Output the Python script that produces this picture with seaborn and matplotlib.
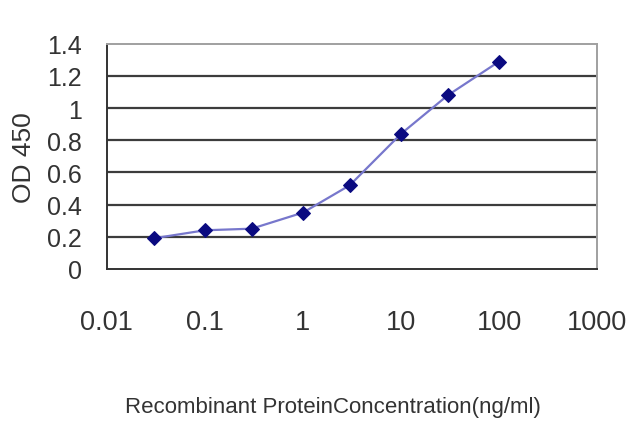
import pandas as pd
import seaborn as sns
import matplotlib.pyplot as plt

concentration = [0.03, 0.1, 0.3, 1, 3, 10, 30, 100]
od450 = [0.19, 0.24, 0.25, 0.35, 0.52, 0.84, 1.08, 1.29]

x_ticks = [0.01, 0.1, 1, 10, 100, 1000]
x_tick_labels = ['0.01', '0.1', '1', '10', '100', '1000']
y_ticks = [0, 0.2, 0.4, 0.6, 0.8, 1, 1.2, 1.4]
y_tick_labels = ['0', '0.2', '0.4', '0.6', '0.8', '1', '1.2', '1.4']

TEXT = '#333333'


def draw(df):
    fig = plt.figure(figsize=(6.4, 4.27), dpi=100)
    ax = fig.add_axes([0.167, 0.368, 0.766, 0.527])

    for y in y_ticks[1:-1]:
        ax.axhline(y, color='#3c3c3c', lw=1.6, zorder=1)

    sns.lineplot(x='conc', y='od', data=df, ax=ax, color='#7777cc', lw=1.6,
                 marker='D', markersize=7.5, markerfacecolor='#0a0a80',
                 markeredgecolor='#0a0a80', zorder=3)

    ax.set_xscale('log')
    ax.set_xlim(0.01, 1000)
    ax.set_ylim(0, 1.4)
    ax.set_xticks(x_ticks)
    ax.set_xticklabels(x_tick_labels)
    ax.minorticks_off()
    ax.set_yticks(y_ticks)
    ax.set_yticklabels(y_tick_labels)

    ax.tick_params(axis='x', direction='in', length=4, width=1, color='#555555',
                   labelsize=19.5, labelcolor=TEXT, pad=29)
    ax.tick_params(axis='y', direction='out', length=4, width=1, color='#333333',
                   labelsize=18, labelcolor=TEXT, pad=14)

    for side in ['left', 'bottom']:
        ax.spines[side].set_color('#333333')
        ax.spines[side].set_linewidth(1.4)
    for side in ['top', 'right']:
        ax.spines[side].set_color('#a0a0a0')
        ax.spines[side].set_linewidth(1.4)

    ax.set_xlabel('Recombinant ProteinConcentration(ng/ml)', fontsize=16,
                  color=TEXT, va='center')
    ax.xaxis.set_label_coords(0.461, -0.613)
    ax.set_ylabel('OD 450', fontsize=19, color=TEXT, labelpad=8)
    return fig


if __name__ == '__main__':
    sns.set_style('white')
    plt.rcParams['font.family'] = ['Liberation Sans', 'DejaVu Sans']
    df = pd.DataFrame({'conc': concentration, 'od': od450})
    fig = draw(df)
    fig.savefig('out.png', dpi=100)
